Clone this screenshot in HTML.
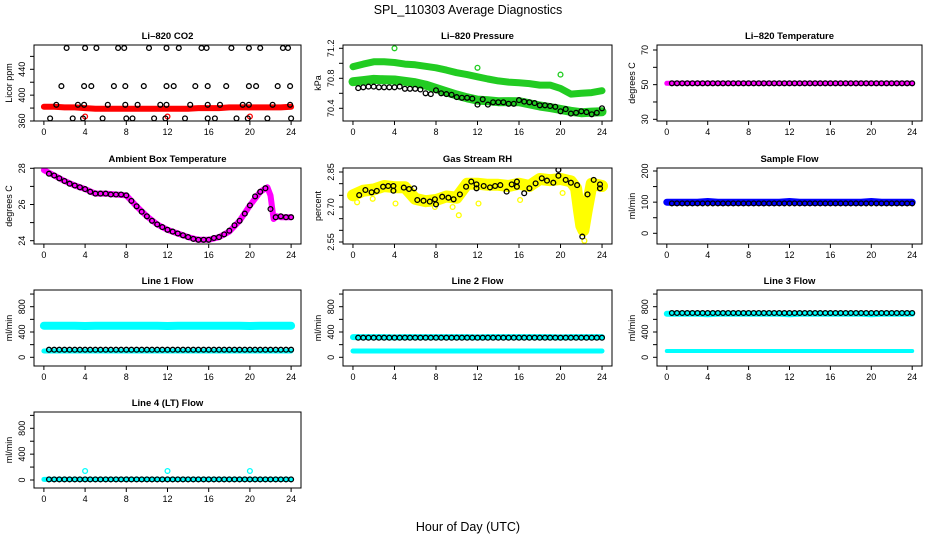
<!DOCTYPE html>
<html><head><meta charset="utf-8"><style>
body{margin:0;background:#fff}
svg{display:block;font-family:"Liberation Sans",sans-serif}
</style></head><body>
<svg id="chart" width="936" height="540" viewBox="0 0 936 540" xmlns="http://www.w3.org/2000/svg">
<rect width="936" height="540" fill="#fff"/>
<text x="468" y="14" text-anchor="middle" font-size="12.5">SPL_110303  Average Diagnostics</text>
<text x="468" y="531" text-anchor="middle" font-size="12.5">Hour of Day (UTC)</text>
</svg>
<script>
// ---------- data ----------
const xTicks=[0,4,8,12,16,20,24];
const H48=[0.5,1,1.5,2,2.5,3,3.5,4,4.5,5,5.5,6,6.5,7,7.5,8,8.5,9,9.5,10,10.5,11,11.5,12,12.5,13,13.5,14,14.5,15,15.5,16,16.5,17,17.5,18,18.5,19,19.5,20,20.5,21,21.5,22,22.5,23,23.5,24];
const H25=[0,1,2,3,4,5,6,7,8,9,10,11,12,13,14,15,16,17,18,19,20,21,22,23,24];

// Li-820 CO2
const co2Hours=[2.2,4.0,5.1,7.2,7.8,10.2,11.9,13.1,15.3,15.8,18.2,19.9,21.0,23.2,23.7,
1.7,3.9,4.6,6.8,7.9,9.7,11.9,12.6,14.7,15.9,17.7,19.9,20.6,22.7,23.9,
1.2,3.3,3.9,6.2,7.9,9.1,11.3,11.9,14.2,15.9,17.1,19.3,19.9,22.2,23.9,
0.6,2.8,3.8,5.7,8.0,8.6,10.7,11.8,13.7,15.9,16.6,18.7,19.8,21.7,24.0];
const co2Vals=[473,473,473,473,473,473,473,473,473,473,473,473,473,473,473,
414,414,414,414,414,414,414,414,414,414,414,414,414,414,414,
385,385,385,385,385,385,385,385,385,385,385,385,385,385,385,
364,364,364,364,364,364,364,364,364,364,364,364,364,364,364];
const co2Band=[382,382,381,381,380,379,379,379,379,379,379,379,379,379,379,380,380,380,381,381,381,381,381,381,382];
const co2OutHours=[4,12,20];
const co2OutVals=[367,367,367];

// Li-820 Pressure
const presUpper=[70.955,70.99,71.02,71.02,71.01,70.99,70.98,70.96,70.94,70.91,70.875,70.85,70.82,70.79,70.765,70.75,70.74,70.73,70.71,70.71,70.665,70.59,70.60,70.61,70.635];
const presLower=[70.755,70.77,70.786,70.78,70.777,70.76,70.742,70.71,70.666,70.62,70.577,70.54,70.51,70.5,70.488,70.49,70.488,70.46,70.431,70.41,70.386,70.36,70.342,70.35,70.355];
const presBlack=[70.67,70.68,70.69,70.69,70.68,70.68,70.68,70.68,70.69,70.66,70.66,70.66,70.65,70.60,70.59,70.64,70.60,70.59,70.58,70.55,70.54,70.54,70.53,70.45,70.52,70.45,70.48,70.48,70.48,70.46,70.46,70.51,70.49,70.48,70.47,70.44,70.44,70.43,70.42,70.36,70.39,70.33,70.34,70.36,70.35,70.32,70.34,70.40];
const presOutHours=[4,12,20];
const presOutVals=[71.2,70.94,70.85];

// Li-820 Temperature
const tempBand=[50.8,50.8,50.8,50.8,50.8,50.8,50.8,50.8,50.8,50.8,50.8,50.8,50.8,50.8,50.8,50.8,50.8,50.8,50.8,50.8,50.8,50.8,50.8,50.8,50.8];
const tempBlack=[50.8,50.8,50.8,50.8,50.8,50.8,50.8,50.8,50.8,50.8,50.8,50.8,50.8,50.8,50.8,50.8,50.8,50.8,50.8,50.8,50.8,50.8,50.8,50.8,50.8,50.8,50.8,50.8,50.8,50.8,50.8,50.8,50.8,50.8,50.8,50.8,50.8,50.8,50.8,50.8,50.8,50.8,50.8,50.8,50.8,50.8,50.8,50.8];

// Ambient box temperature
const ambBandHours=[0,1,2,3,4,5,6,7,8,9,10,11,12,13,14,15,16,17,18,19,20,21,21.7,22,22.3,22.6,23,24];
const ambBand=[27.9,27.6,27.3,27.05,26.85,26.6,26.6,26.55,26.5,25.9,25.35,24.9,24.6,24.4,24.2,24.05,24.05,24.2,24.5,25.1,25.95,26.7,26.95,26.5,25.2,25.35,25.3,25.3];
const ambBlack=[27.7,27.6,27.45,27.3,27.15,27.05,26.95,26.85,26.7,26.6,26.6,26.6,26.55,26.55,26.55,26.5,26.2,25.9,25.6,25.35,25.1,24.9,24.75,24.6,24.5,24.4,24.3,24.2,24.1,24.05,24.05,24.05,24.15,24.2,24.35,24.55,24.85,25.1,25.5,25.95,26.45,26.7,26.9,25.75,25.3,25.35,25.3,25.3];

// Gas stream RH
const rhBandHours=[0,1,2,3,4,5,6,7,8,9,10,11,12,13,14,15,16,17,18,19,20,21,21.5,21.8,22,22.2,22.5,23,24];
const rhBand=[2.75,2.77,2.775,2.79,2.785,2.785,2.735,2.725,2.73,2.745,2.74,2.80,2.80,2.795,2.795,2.79,2.80,2.79,2.82,2.815,2.82,2.81,2.78,2.68,2.62,2.6,2.68,2.80,2.79];
const rhHours=[0.6,1.2,1.8,2.3,2.9,3.4,3.9,3.9,4.9,5.4,5.9,6.2,6.8,7.4,7.9,8.0,8.6,9.2,9.7,10.3,10.9,11.4,11.9,11.9,12.6,13.2,13.7,14.2,14.8,15.3,15.8,15.8,16.5,17.0,17.6,18.2,18.7,19.3,19.8,19.8,20.5,21.0,21.6,22.1,22.6,23.2,23.8,23.8];
const rhVals=[2.751,2.773,2.763,2.769,2.787,2.790,2.790,2.770,2.783,2.777,2.780,2.730,2.727,2.723,2.733,2.711,2.744,2.740,2.733,2.754,2.787,2.809,2.797,2.780,2.790,2.784,2.790,2.794,2.766,2.797,2.787,2.809,2.759,2.780,2.801,2.823,2.813,2.804,2.859,2.834,2.816,2.804,2.794,2.573,2.754,2.816,2.797,2.780];
const rhOutHours=[0.4,1.9,4.1,7.9,10.2,12.1,21.9,22.0,22.2,22.3,22.4,9.6,16.1,20.2];
const rhOutVals=[2.72,2.735,2.715,2.70,2.665,2.715,2.66,2.63,2.60,2.555,2.70,2.70,2.73,2.76];

// Sample flow
const sfBand=[100,100,100,100,102,100,100,100,100,100,100,100,102,100,100,100,100,100,100,100,102,100,100,100,100];
const sfBlack=[96,96,96,96,96,96,96,96,96,96,96,96,96,96,96,96,96,96,96,96,96,96,96,96,96,96,96,96,96,96,96,96,96,96,96,96,96,96,96,96,96,96,96,96,96,96,96,96];

// Line flows
const l1High=[500,500,500,500,495,500,500,500,500,500,500,500,495,500,500,500,500,500,500,500,495,500,500,500,500];
const l1Low=[100,100,100,100,100,100,100,100,100,100,100,100,100,100,100,100,100,100,100,100,100,100,100,100,100];
const l1Black=[120,120,120,120,120,120,120,120,120,120,120,120,120,120,120,120,120,120,120,120,120,120,120,120,120,120,120,120,120,120,120,120,120,120,120,120,120,120,120,120,120,120,120,120,120,120,120,120];
const l2High=[320,320,320,320,315,320,320,320,320,320,320,320,315,320,320,320,320,320,320,320,315,320,320,320,320];
const l2Low=[100,100,100,100,100,100,100,100,100,100,100,100,100,100,100,100,100,100,100,100,100,100,100,100,100];
const l2Black=[310,310,310,310,310,310,310,310,310,310,310,310,310,310,310,310,310,310,310,310,310,310,310,310,310,310,310,310,310,310,310,310,310,310,310,310,310,310,310,310,310,310,310,310,310,310,310,310];
const l3High=[690,690,690,690,680,690,690,690,690,690,690,690,680,690,690,690,690,690,690,690,680,690,690,690,690];
const l3Low=[100,100,100,100,100,100,100,100,100,100,100,100,100,100,100,100,100,100,100,100,100,100,100,100,100];
const l3Black=[700,700,700,700,700,700,700,700,700,700,700,700,700,700,700,700,700,700,700,700,700,700,700,700,700,700,700,700,700,700,700,700,700,700,700,700,700,700,700,700,700,700,700,700,700,700,700,700];
const l4Band=[10,10,10,10,10,10,10,10,10,10,10,10,10,10,10,10,10,10,10,10,10,10,10,10,10];
const l4Black=[10,10,10,10,10,10,10,10,10,10,10,10,10,10,10,10,10,10,10,10,10,10,10,10,10,10,10,10,10,10,10,10,10,10,10,10,10,10,10,10,10,10,10,10,10,10,10,10];
const l4OutHours=[4,12,20];
const l4OutVals=[140,140,140];

const flowTicks=[0,200,400,600,800,1000];
const flowLabels=[0,400,800];

// ---------- layout ----------
const NS='http://www.w3.org/2000/svg';
const svg=document.getElementById('chart');
const cols=[[34,301],[343,612],[657,922]];
const rows=[[45,121],[168,244],[290,366],[412,488]];
function mk(tag,attrs,parent){const e=document.createElementNS(NS,tag);for(const k in attrs)e.setAttribute(k,attrs[k]);(parent||svg).appendChild(e);return e;}

const panels=[
 {id:'co2',title:'Li\u2013820 CO2',ylab:'Licor ppm',c:0,r:0,v0:360,v1:440,p0:121,p1:69.3,ticks:[360,380,400,420,440,460],labels:[360,400,440],
  series:[{t:'band',x:H25,y:co2Band,col:'#ff0000',w:6},{t:'pts',x:co2OutHours,y:co2OutVals,col:'#ff0000'},{t:'pts',x:co2Hours,y:co2Vals,col:'#000'}]},
 {id:'pressure',title:'Li\u2013820 Pressure',ylab:'kPa',c:1,r:0,v0:70.4,v1:71.2,p0:108.3,p1:48.3,ticks:[70.4,70.6,70.8,71.0,71.2],labels:[70.4,70.8,71.2],dec:1,
  series:[{t:'band',x:H25,y:presUpper,col:'#22cc22',w:7},{t:'band',x:H25,y:presLower,col:'#22cc22',w:9},{t:'pts',x:presOutHours,y:presOutVals,col:'#22cc22'},{t:'pts',x:H48,y:presBlack,col:'#000'}]},
 {id:'li820-temp',title:'Li\u2013820 Temperature',ylab:'degrees C',c:2,r:0,v0:30,v1:70,p0:119.3,p1:50,ticks:[30,40,50,60,70],labels:[30,50,70],
  series:[{t:'band',x:H25,y:tempBand,col:'#ff00ff',w:5},{t:'pts',x:H48,y:tempBlack,col:'#000'}]},
 {id:'ambient',title:'Ambient Box Temperature',ylab:'degrees C',c:0,r:1,v0:24,v1:28,p0:240.7,p1:168.3,ticks:[24,25,26,27,28],labels:[24,26,28],
  series:[{t:'band',x:ambBandHours,y:ambBand,col:'#ff00ff',w:6},{t:'pts',x:H48,y:ambBlack,col:'#000'}]},
 {id:'rh',title:'Gas Stream RH',ylab:'percent',c:1,r:1,v0:2.55,v1:2.85,p0:242,p1:172,ticks:[2.55,2.6,2.65,2.7,2.75,2.8,2.85],labels:[2.55,2.70,2.85],dec:2,
  series:[{t:'band',x:rhBandHours,y:rhBand,col:'#ffff00',w:12},{t:'pts',x:rhOutHours,y:rhOutVals,col:'#ffff00'},{t:'pts',x:rhHours,y:rhVals,col:'#000'}]},
 {id:'sample-flow',title:'Sample Flow',ylab:'ml/min',c:2,r:1,v0:0,v1:200,p0:233.3,p1:171,ticks:[0,50,100,150,200],labels:[0,100,200],
  series:[{t:'band',x:H25,y:sfBand,col:'#0000ff',w:7},{t:'pts',x:H48,y:sfBlack,col:'#000'}]},
 {id:'line1',title:'Line 1 Flow',ylab:'ml/min',c:0,r:2,v0:0,v1:800,p0:357.3,p1:306.7,ticks:flowTicks,labels:flowLabels,
  series:[{t:'band',x:H25,y:l1High,col:'#00ffff',w:8},{t:'band',x:H25,y:l1Low,col:'#00ffff',w:5},{t:'pts',x:H48,y:l1Black,col:'#000'}]},
 {id:'line2',title:'Line 2 Flow',ylab:'ml/min',c:1,r:2,v0:0,v1:800,p0:357.3,p1:306.7,ticks:flowTicks,labels:flowLabels,
  series:[{t:'band',x:H25,y:l2High,col:'#00ffff',w:6},{t:'band',x:H25,y:l2Low,col:'#00ffff',w:5},{t:'pts',x:H48,y:l2Black,col:'#000'}]},
 {id:'line3',title:'Line 3 Flow',ylab:'ml/min',c:2,r:2,v0:0,v1:800,p0:357.3,p1:306.7,ticks:flowTicks,labels:flowLabels,
  series:[{t:'band',x:H25,y:l3High,col:'#00ffff',w:6},{t:'band',x:H25,y:l3Low,col:'#00ffff',w:4},{t:'pts',x:H48,y:l3Black,col:'#000'}]},
 {id:'line4',title:'Line 4 (LT) Flow',ylab:'ml/min',c:0,r:3,v0:0,v1:800,p0:480,p1:428.3,ticks:flowTicks,labels:flowLabels,
  series:[{t:'band',x:H25,y:l4Band,col:'#00ffff',w:5},{t:'pts',x:l4OutHours,y:l4OutVals,col:'#00ffff'},{t:'pts',x:H48,y:l4Black,col:'#000'}]}
];

panels.forEach(p=>{
  const [L,R]=cols[p.c],[T,B]=rows[p.r];
  const g=mk('g',{});
  
  
  const span=(R-L)/25.92;
  const xs=h=>L+(h+0.96)*span;
  const ys=v=>p.p0+(v-p.v0)*(p.p1-p.p0)/(p.v1-p.v0);
  const t=mk('text',{x:(L+R)/2,y:T-6,'text-anchor':'middle','font-size':'9.5','font-weight':'bold'},g);
  t.textContent=p.title;
  
  
  const clip=mk('clipPath',{id:'clip-'+p.id},g);
  mk('rect',{x:L,y:T,width:R-L,height:B-T},clip);
  const marks=mk('g',{'clip-path':'url(#clip-'+p.id+')'},g);
  
  
  p.series.forEach((s,si)=>{
    if(s.t==='band'){
      const pts=s.x.map((h,i)=>xs(h).toFixed(1)+','+ys(s.y[i]).toFixed(1)).join(' ');
      const pl=mk('polyline',{points:pts,fill:'none',stroke:s.col,'stroke-width':s.w,'stroke-linejoin':'round','stroke-linecap':'round'},marks);
      
      
    } else {
      s.x.forEach((h,i)=>{
        const c=mk('circle',{cx:xs(h).toFixed(1),cy:ys(s.y[i]).toFixed(1),r:2.4,fill:'none',stroke:s.col,'stroke-width':1.3},marks);
        
        
      });
    }
  });
  const box=mk('rect',{x:L,y:T,width:R-L,height:B-T,fill:'none',stroke:'#000','stroke-width':1},g);
  
  
  const xa=mk('g',{},g);
  
  
  mk('line',{x1:xs(xTicks[0]),x2:xs(xTicks[xTicks.length-1]),y1:B,y2:B,stroke:'#000'},xa);
  xTicks.forEach(v=>{
    mk('line',{x1:xs(v),x2:xs(v),y1:B,y2:B+4,stroke:'#000'},xa);
    const tl=mk('text',{x:xs(v),y:B+14,'text-anchor':'middle','font-size':'9'},xa);
    tl.textContent=v;
    
    
  });
  const ya=mk('g',{},g);
  
  
  const tv=p.ticks.filter(v=>ys(v)>=T-3&&ys(v)<=B+3);
  mk('line',{x1:L,x2:L,y1:ys(tv[0]),y2:ys(tv[tv.length-1]),stroke:'#000'},ya);
  tv.forEach(v=>mk('line',{x1:L-4,x2:L,y1:ys(v),y2:ys(v),stroke:'#000'},ya));
  p.labels.forEach(v=>{
    const yy=ys(v);
    const tl=mk('text',{x:L-9,y:yy,'text-anchor':'middle','font-size':'9',transform:`rotate(-90 ${L-9} ${yy})`},ya);
    tl.textContent=p.dec?v.toFixed(p.dec):v;
    
    
  });
  const yl=mk('text',{x:L-22,y:(T+B)/2,'text-anchor':'middle','font-size':'9',transform:`rotate(-90 ${L-22} ${(T+B)/2})`},ya);
  yl.textContent=p.ylab;
  
  
});
</script>
</body></html>
